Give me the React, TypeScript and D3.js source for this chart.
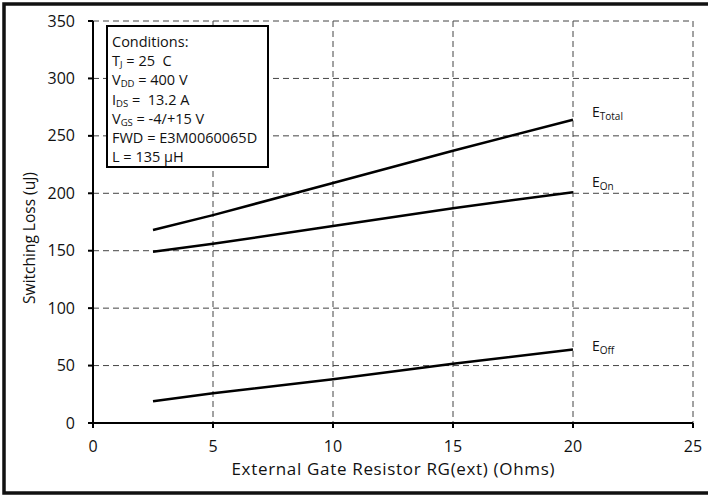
import React from "react";
import * as d3 from "d3";

const rg = [2.5, 5, 10, 15, 20];
const eTotal = [168, 181, 209, 237, 264];
const eOn = [149, 156, 171.5, 187, 201];
const eOff = [19, 26, 38, 51.5, 64];
const xTicks = [0, 5, 10, 15, 20, 25];
const yTicks = [0, 50, 100, 150, 200, 250, 300, 350];
const seriesNames = ["Total", "On", "Off"];
const conditions = [
  { main: "Conditions:", sub: "", rest: "" },
  { main: "T", sub: "J", rest: " = 25 \u00a0C" },
  { main: "V", sub: "DD", rest: " = 400 V" },
  { main: "I", sub: "DS", rest: " = \u00a013.2 A" },
  { main: "V", sub: "GS", rest: " = -4/+15 V" },
  { main: "FWD = E3M0060065D", sub: "", rest: "" },
  { main: "L = 135 μH", sub: "", rest: "" },
];

const W = 708, H = 497;
const ml = 93, mr = 693, mt = 21, mb = 423;
const font = "'Open Sans', 'DejaVu Sans', sans-serif";

export default function App() {
  const x = d3.scaleLinear().domain([0, 25]).range([ml, mr]);
  const y = d3.scaleLinear().domain([0, 350]).range([mb, mt]);
  const line = d3.line<number>().x((_, i) => x(rg[i])).y((d) => y(d));
  const series = [eTotal, eOn, eOff];
  const labelOffsets = [-3, -5, 2];

  return (
    <svg width={W} height={H} style={{ position: "absolute", left: 0, top: 0, background: "#fff" }} fontFamily={font}>
      <rect x={4} y={4} width={730} height={489} fill="none" stroke="#111" strokeWidth={3.5} />
      {/* grid */}
      {xTicks.filter((t) => t > 0).map((t) => (
        <line key={"gx" + t} x1={x(t)} x2={x(t)} y1={mt} y2={mb} stroke="#444" strokeWidth={1} strokeDasharray="6,4" />
      ))}
      {yTicks.filter((t) => t > 0).map((t) => (
        <line key={"gy" + t} x1={ml} x2={mr} y1={y(t)} y2={y(t)} stroke="#444" strokeWidth={1} strokeDasharray="6,4" />
      ))}
      {/* axes */}
      <line x1={ml} x2={ml} y1={mt} y2={mb} stroke="#000" strokeWidth={2} />
      <line x1={ml} x2={mr} y1={mb} y2={mb} stroke="#000" strokeWidth={2} />
      {yTicks.map((t) => (
        <g key={"yt" + t}>
          <line x1={ml - 5} x2={ml} y1={y(t)} y2={y(t)} stroke="#000" strokeWidth={2} />
          <text x={75} y={y(t)} dy="0.35em" textAnchor="end" fontSize={16} fill="#111">{t}</text>
        </g>
      ))}
      {xTicks.map((t) => (
        <g key={"xt" + t}>
          <line x1={x(t)} x2={x(t)} y1={mb} y2={mb + 5} stroke="#000" strokeWidth={2} />
          <text x={x(t)} y={452} textAnchor="middle" fontSize={16} fill="#111">{t}</text>
        </g>
      ))}
      {/* lines */}
      {series.map((s, i) => (
        <path key={"s" + i} d={line(s) || ""} fill="none" stroke="#000" strokeWidth={2.5} />
      ))}
      {series.map((s, i) => (
        <text key={"l" + i} x={x(20) + 19} y={y(s[s.length - 1]) + labelOffsets[i]} fontSize={14} fill="#111">
          E<tspan fontSize={10} dy={3}>{seriesNames[i]}</tspan>
        </text>
      ))}
      {/* conditions box */}
      <rect x={107} y={26} width={161} height={141} fill="#fff" stroke="#000" strokeWidth={2} />
      {conditions.map((c, i) => (
        <text key={"c" + i} x={112} y={47 + i * 19.2} fontSize={14.5} fill="#111">
          {c.main}
          {c.sub ? <tspan fontSize={9.5} dy={2}>{c.sub}</tspan> : null}
          {c.rest ? <tspan dy={c.sub ? -2 : 0}>{c.rest}</tspan> : null}
        </text>
      ))}
      {/* axis titles */}
      <text x={393} y={475} textAnchor="middle" fontSize={17} textLength={323} lengthAdjust="spacing" fill="#111">External Gate Resistor RG(ext) (Ohms)</text>
      <text transform={`translate(35,238) rotate(-90)`} textAnchor="middle" fontSize={15.5} fill="#111">Switching Loss (uJ)</text>
    </svg>
  );
}
